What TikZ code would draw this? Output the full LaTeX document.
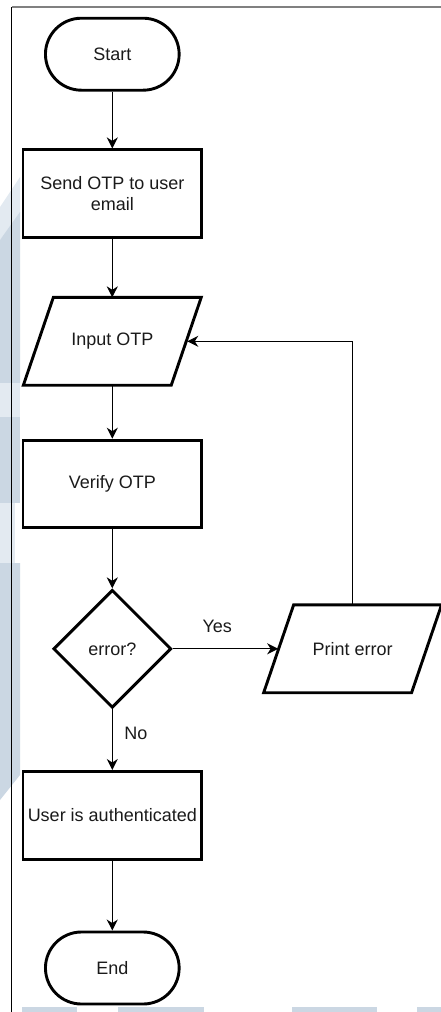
\documentclass[tikz,border=0pt]{standalone}
\usepackage{fontspec}
\setmainfont{Liberation Sans}
\usetikzlibrary{shapes.geometric,arrows.meta}

\definecolor{wmark}{HTML}{CBD7E3}
\definecolor{wmarklight}{HTML}{E3EAF1}
\definecolor{framegray}{HTML}{808080}
\definecolor{ink}{HTML}{1A1A1A}

\tikzset{
  border/.style={line width=2.9pt, draw=black, line join=miter},
  lbl/.style={font=\fontsize{18}{21.6}\selectfont, text=ink, inner sep=0pt, align=center},
  terminal/.style={lbl, border, rounded corners=36pt, minimum width=133.7pt, minimum height=72pt},
  process/.style={lbl, border, rectangle, minimum width=178.6pt, minimum height=87.7pt},
  io/.style={lbl, minimum width=147.5pt, minimum height=87.5pt},
  decision/.style={lbl, border, diamond, aspect=1, minimum width=118pt, minimum height=118pt},
  flow/.style={line width=1.3pt, draw=black, -{Stealth[length=11pt, width=11pt, inset=3.5pt]}},
}

\begin{document}
\begin{tikzpicture}[x=1pt, y=-1pt]
  \useasboundingbox (0,0) rectangle (441,1012);

  % faint watermark showing through along the left and bottom edges
  \fill[wmarklight] (0,207) -- (20,177) -- (20,217) -- (0,240) -- cycle;
  \fill[wmark] (0,240) -- (20,212) -- (20,383) -- (0,383) -- cycle;
  \fill[wmarklight] (0,383) rectangle (20,417);
  \fill[wmark] (0,417) rectangle (20,503);
  \fill[wmarklight] (0,503) rectangle (15,563);
  \fill[wmark] (0,563) -- (20,563) -- (20,775) -- (0,800) -- cycle;
  \fill[wmark] (21.7,1006.7) rectangle (76.7,1012);
  \fill[wmark] (118,1006.7) rectangle (204,1012);
  \fill[wmark] (291.7,1006.7) rectangle (376.7,1012);
  \fill[wmark] (416.7,1006.7) rectangle (441,1012);

  % page frame
  \draw[framegray, line width=1.3pt] (11.7,7) -- (441,7);
  \draw[black, line width=1pt] (11.7,7) -- (11.7,1012);

  % nodes
  \node[terminal] (start) at (112.3,54.2) {Start};
  \node[process] (send) at (112.3,193.7) {Send OTP to user\\email};
  \node[io] (inp) at (112.3,341.3) {Input OTP};
  \node[process] (verify) at (112.3,484) {Verify OTP};
  \node[decision] (err) at (112.3,648.8) {error?};
  \node[io] (perr) at (352.6,648.8) {Print error};
  \node[process] (auth) at (112.3,815.3) {User is authenticated};
  \node[terminal] (end) at (112.3,968) {End};

  % parallelogram outlines for the input/output nodes
  \foreach \n in {inp,perr}
    \draw[border] ([xshift=15pt]\n.north west) -- ([xshift=15pt]\n.north east)
      -- ([xshift=-15pt]\n.south east) -- ([xshift=-15pt]\n.south west) -- cycle;

  % connectors
  \draw[flow] (start) -- (send);
  \draw[flow] (send) -- (inp);
  \draw[flow] (inp) -- (verify);
  \draw[flow] (verify) -- (err);
  \draw[flow] (err.east) -- ([xshift=-0.5pt]perr.west);
  \draw[flow] (err) -- (auth);
  \draw[flow] (auth) -- (end);
  \draw[flow] (perr.north) -- (perr.north |- inp.east) -- ([xshift=1pt]inp.east);

  % branch labels
  \node[lbl] (yes) at (217.3,626) {Yes};
  \node[lbl] (no) at (136,733.3) {No};
\end{tikzpicture}
\end{document}
